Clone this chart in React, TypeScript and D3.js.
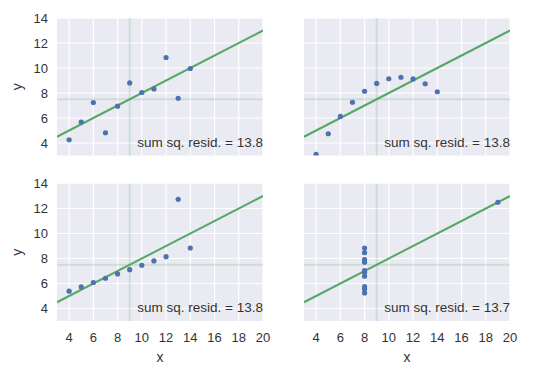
import React from "react";
import * as d3 from "d3";

const x123 = [10, 8, 13, 9, 11, 14, 6, 4, 12, 7, 5];
const y1 = [8.04, 6.95, 7.58, 8.81, 8.33, 9.96, 7.24, 4.26, 10.84, 4.82, 5.68];
const y2 = [9.14, 8.14, 8.74, 8.77, 9.26, 8.1, 6.13, 3.1, 9.13, 7.26, 4.74];
const y3 = [7.46, 6.77, 12.74, 7.11, 7.81, 8.84, 6.08, 5.39, 8.15, 6.42, 5.73];
const x4 = [8, 8, 8, 8, 8, 8, 8, 19, 8, 8, 8];
const y4 = [6.58, 5.76, 7.71, 8.84, 8.47, 7.04, 5.25, 12.5, 5.56, 7.91, 6.89];
const residLabels = ["13.8", "13.8", "13.8", "13.7"];
const xTicks = [4, 6, 8, 10, 12, 14, 16, 18, 20];
const yTicks = [4, 6, 8, 10, 12, 14];
const xDomain = [3, 20];
const yDomain = [3, 14];
const fitIntercept = 3;
const fitSlope = 0.5;
const meanX = 9;
const meanY = 7.5;

const panels = [
  { xs: x123, ys: y1, col: 0, row: 0 },
  { xs: x123, ys: y2, col: 1, row: 0 },
  { xs: x123, ys: y3, col: 0, row: 1 },
  { xs: x4, ys: y4, col: 1, row: 1 },
];

const colLeft = [57, 304];
const colWidth = 206;
const rowTop = [18, 183.5];
const rowHeight = 137.5;

const FONT = "'Liberation Sans', Arial, sans-serif";
const TXT = "#333333";

export default function App() {
  return (
    <svg width={542} height={375} style={{ position: "absolute", left: 0, top: 0, background: "#fff" }}>
      {panels.map((p, i) => {
        const x = d3.scaleLinear().domain(xDomain).range([colLeft[p.col], colLeft[p.col] + colWidth]);
        const y = d3.scaleLinear().domain(yDomain).range([rowTop[p.row] + rowHeight, rowTop[p.row]]);
        const line = d3.line<number>().x((v) => x(v)).y((v) => y(fitIntercept + fitSlope * v));
        const [x0, x1] = x.range();
        const [yb, yt] = y.range();
        return (
          <g key={i}>
            <defs>
              <clipPath id={`clip${i}`}>
                <rect x={x0} y={yt} width={x1 - x0} height={yb - yt} />
              </clipPath>
            </defs>
            <rect x={x0} y={yt} width={x1 - x0} height={yb - yt} fill="#EAEAF2" />
            <g clipPath={`url(#clip${i})`}>
              {xTicks.map((t) => (
                <line key={"gx" + t} x1={x(t)} x2={x(t)} y1={yt} y2={yb} stroke="#fff" strokeWidth={1.2} />
              ))}
              {yTicks.map((t) => (
                <line key={"gy" + t} x1={x0} x2={x1} y1={y(t)} y2={y(t)} stroke="#fff" strokeWidth={1.2} />
              ))}
              <line x1={x(meanX)} x2={x(meanX)} y1={yt} y2={yb} stroke="#55A868" strokeOpacity={0.2} strokeWidth={2} />
              <line x1={x0} x2={x1} y1={y(meanY)} y2={y(meanY)} stroke="#55A868" strokeOpacity={0.2} strokeWidth={2} />
              <path d={line(xDomain) || ""} stroke="#55A868" strokeWidth={2} fill="none" />
              {p.xs.map((xv, j) => (
                <circle key={j} cx={x(xv)} cy={y(p.ys[j])} r={2.6} fill="#4C72B0" />
              ))}
            </g>
            <text x={x1} y={y(4) - 1} dy="0.35em" textAnchor="end" fontFamily={FONT} fontSize={13.5} fill={TXT}>
              {`sum sq. resid. = ${residLabels[i]}`}
            </text>
            {p.col === 0 &&
              yTicks.map((t) => (
                <text key={"ty" + t} x={x0 - 9} y={y(t)} dy="0.35em" textAnchor="end" fontFamily={FONT} fontSize={13} fill={TXT}>
                  {t}
                </text>
              ))}
            {p.row === 1 &&
              xTicks.map((t) => (
                <text key={"tx" + t} x={x(t)} y={yb + 16} dy="0.35em" textAnchor="middle" fontFamily={FONT} fontSize={13} fill={TXT}>
                  {t}
                </text>
              ))}
            {p.col === 0 && (
              <text
                transform={`translate(${17},${(yt + yb) / 2}) rotate(-90)`}
                textAnchor="middle"
                dy="0.35em"
                fontFamily={FONT}
                fontSize={14}
                fill={TXT}
              >
                y
              </text>
            )}
            {p.row === 1 && (
              <text x={(x0 + x1) / 2} y={yb + 36} dy="0.35em" textAnchor="middle" fontFamily={FONT} fontSize={14} fill={TXT}>
                x
              </text>
            )}
          </g>
        );
      })}
    </svg>
  );
}
